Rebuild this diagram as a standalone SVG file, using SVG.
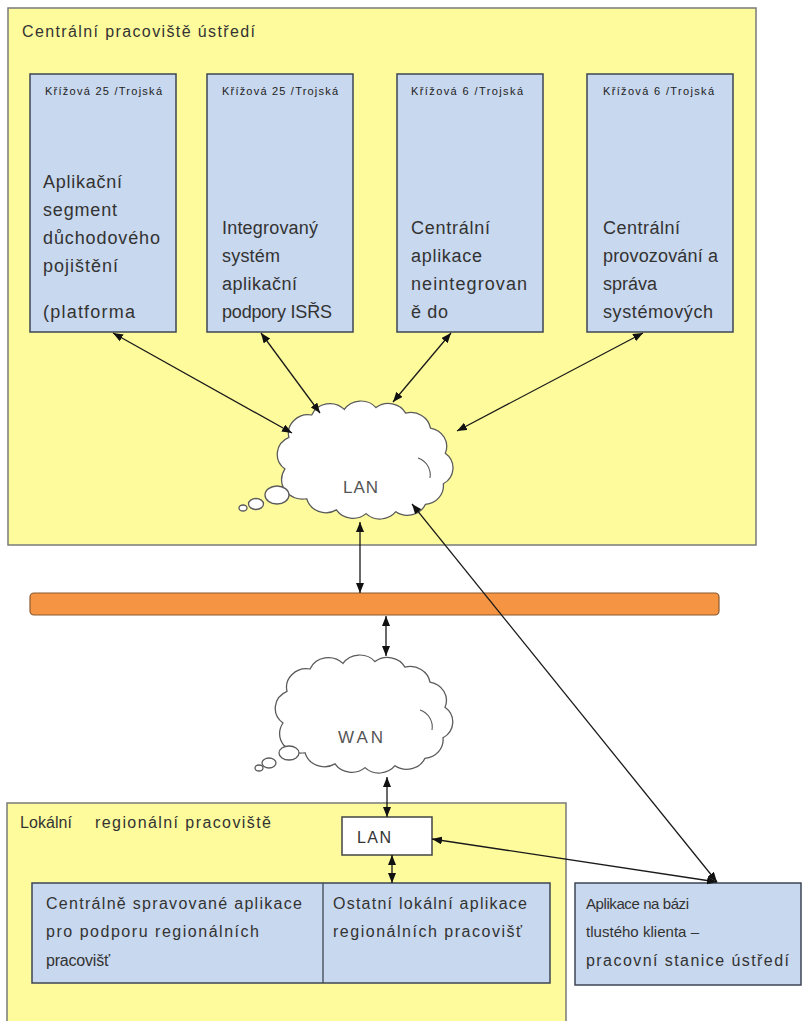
<svg xmlns="http://www.w3.org/2000/svg" width="803" height="1021" viewBox="0 0 803 1021">
<style>
.zone{fill:#FEFB9C;stroke:#7a7a7a;stroke-width:1.5}
.app{fill:#C8D8EE;stroke:#3d4654;stroke-width:1.5}
.bar{fill:#F59442;stroke:#8a5a30;stroke-width:1.2}
.cloud{fill:#ffffff;stroke:#5a5a5a;stroke-width:1.3}
.lanbox{fill:#ffffff;stroke:#444;stroke-width:1.5}
.t{font-family:"Liberation Sans",Arial,sans-serif;fill:#333}
.title{font-size:16px}
.hdr{font-size:11px;fill:#222}
.body{font-size:18px}
.small{font-size:16px}
.net{font-size:17px;fill:#555}
.conn line{stroke:#1a1a1a;stroke-width:1.3;fill:none;marker-start:url(#ah);marker-end:url(#ah)}
</style>
<defs>
<marker id="ah" viewBox="0 0 10 8" refX="10" refY="4" markerWidth="10" markerHeight="8" markerUnits="userSpaceOnUse" orient="auto-start-reverse">
<path d="M0,0 L10,4 L0,8 Z" fill="#111"/>
</marker>
<path id="cloudShape" d="M8,72 A20,20 0 0 1 12,38 A20,20 0 0 1 35,14 A20,20 0 0 1 68,8 A20,20 0 0 1 100,6 A20,20 0 0 1 130,12 A20,20 0 0 1 155,28 A20,20 0 0 1 170,55 A20,20 0 0 1 168,88 A20,20 0 0 1 150,110 A20,20 0 0 1 120,118 A20,20 0 0 1 90,120 A20,20 0 0 1 60,116 A20,20 0 0 1 30,104 A21,21 0 0 1 8,72 Z"/>
</defs>

<g id="central-site">
<rect class="zone" x="8" y="8" width="748" height="537"/>
<text class="t title" x="22" y="37" textLength="233" lengthAdjust="spacing">Centrální pracoviště ústředí</text>
</g>

<g id="app1">
<rect class="app" x="30" y="74" width="146" height="258"/>
<text class="t hdr" x="45" y="95" textLength="117" lengthAdjust="spacing">Křížová 25 /Trojská</text>
<text class="t body" x="43" y="188" textLength="79" lengthAdjust="spacing">Aplikační</text>
<text class="t body" x="43" y="216" textLength="74" lengthAdjust="spacing">segment</text>
<text class="t body" x="43" y="244" textLength="117" lengthAdjust="spacing">důchodového</text>
<text class="t body" x="43" y="272" textLength="75" lengthAdjust="spacing">pojištění</text>
<text class="t body" x="43" y="318" textLength="92" lengthAdjust="spacing">(platforma</text>
</g>

<g id="app2">
<rect class="app" x="207" y="74" width="146" height="258"/>
<text class="t hdr" x="222" y="95" textLength="116" lengthAdjust="spacing">Křížová 25 /Trojská</text>
<text class="t body" x="222" y="234" textLength="96" lengthAdjust="spacing">Integrovaný</text>
<text class="t body" x="222" y="262" textLength="58" lengthAdjust="spacing">systém</text>
<text class="t body" x="222" y="290" textLength="75" lengthAdjust="spacing">aplikační</text>
<text class="t body" x="222" y="318" textLength="110" lengthAdjust="spacing">podpory ISŘS</text>
</g>

<g id="app3">
<rect class="app" x="397" y="74" width="146" height="258"/>
<text class="t hdr" x="411" y="95" textLength="112" lengthAdjust="spacing">Křížová 6 /Trojská</text>
<text class="t body" x="411" y="234" textLength="79" lengthAdjust="spacing">Centrální</text>
<text class="t body" x="411" y="262" textLength="71" lengthAdjust="spacing">aplikace</text>
<text class="t body" x="411" y="290" textLength="116" lengthAdjust="spacing">neintegrovan</text>
<text class="t body" x="411" y="318" textLength="37" lengthAdjust="spacing">ě do</text>
</g>

<g id="app4">
<rect class="app" x="587" y="74" width="146" height="258"/>
<text class="t hdr" x="603" y="95" textLength="111" lengthAdjust="spacing">Křížová 6 /Trojská</text>
<text class="t body" x="603" y="234" textLength="77" lengthAdjust="spacing">Centrální</text>
<text class="t body" x="603" y="262" textLength="115" lengthAdjust="spacing">provozování a</text>
<text class="t body" x="603" y="290" textLength="54" lengthAdjust="spacing">správa</text>
<text class="t body" x="603" y="318" textLength="110" lengthAdjust="spacing">systémových</text>
</g>

<g id="lan-cloud">
<use href="#cloudShape" class="cloud" transform="translate(277,402) scale(0.99,0.93)" vector-effect="non-scaling-stroke"/>
<path d="M430,478 A18,18 0 0 0 418,458" fill="none" stroke="#5a5a5a" stroke-width="1.1"/>
<ellipse class="cloud" cx="277" cy="495" rx="12" ry="9"/>
<ellipse class="cloud" cx="256" cy="504" rx="7.5" ry="5.5"/>
<ellipse class="cloud" cx="243" cy="508" rx="4" ry="3"/>
<text class="t net" x="343" y="493" textLength="35" lengthAdjust="spacing">LAN</text>
</g>

<g id="backbone">
<rect class="bar" x="30" y="593" width="689" height="22" rx="4" ry="4"/>
</g>

<g id="wan-cloud">
<use href="#cloudShape" class="cloud" transform="translate(275,656) scale(1,0.93)" vector-effect="non-scaling-stroke"/>
<path d="M432,730 A18,18 0 0 0 420,710" fill="none" stroke="#5a5a5a" stroke-width="1.1"/>
<ellipse class="cloud" cx="289" cy="753" rx="10" ry="7"/>
<ellipse class="cloud" cx="269" cy="763" rx="7" ry="5"/>
<ellipse class="cloud" cx="259" cy="768" rx="4" ry="3"/>
<text class="t net" x="338" y="743" textLength="45" lengthAdjust="spacing">WAN</text>
</g>

<g id="regional-site">
<rect class="zone" x="7" y="803" width="559" height="230"/>
<text class="t small" y="828"><tspan x="20" textLength="52" lengthAdjust="spacing">Lokální</tspan><tspan x="95" textLength="176" lengthAdjust="spacing">regionální pracoviště</tspan></text>
</g>

<g id="regional-lan">
<rect class="lanbox" x="342" y="817" width="90" height="38"/>
<text class="t small" x="357" y="843" textLength="34" lengthAdjust="spacing">LAN</text>
</g>

<g id="regional-apps">
<rect class="app" x="32" y="883" width="518" height="100"/>
<line x1="323" y1="883" x2="323" y2="983" stroke="#3d4654" stroke-width="1.3"/>
<text class="t small" x="46" y="909" textLength="256" lengthAdjust="spacing">Centrálně spravované aplikace</text>
<text class="t small" x="46" y="937" textLength="213" lengthAdjust="spacing">pro podporu regionálních</text>
<text class="t small" x="46" y="966" textLength="64" lengthAdjust="spacing">pracovišť</text>
<text class="t small" x="333" y="909" textLength="194" lengthAdjust="spacing">Ostatní lokální aplikace</text>
<text class="t small" x="333" y="937" textLength="189" lengthAdjust="spacing">regionálních pracovišť</text>
</g>

<g id="thick-client">
<rect class="app" x="575" y="883" width="226" height="102"/>
<text class="t small" x="586" y="909" textLength="103" lengthAdjust="spacing" style="font-size:15px">Aplikace na bázi</text>
<text class="t small" x="586" y="937" textLength="113" lengthAdjust="spacing" style="font-size:15px">tlustého klienta –</text>
<text class="t small" x="586" y="966" textLength="203" lengthAdjust="spacing">pracovní stanice ústředí</text>
</g>

<g id="connectors" class="conn">
<line x1="113" y1="333" x2="292" y2="433"/>
<line x1="261" y1="333" x2="320" y2="413"/>
<line x1="451" y1="333" x2="393" y2="402"/>
<line x1="643" y1="333" x2="457" y2="431"/>
<line x1="360" y1="522" x2="360" y2="593"/>
<line x1="386" y1="616" x2="386" y2="656"/>
<line x1="387" y1="777" x2="387" y2="817"/>
<line x1="392" y1="855" x2="392" y2="883"/>
<line x1="412" y1="504" x2="717" y2="882"/>
<line x1="432" y1="839" x2="717" y2="882"/>
</g>
</svg>
